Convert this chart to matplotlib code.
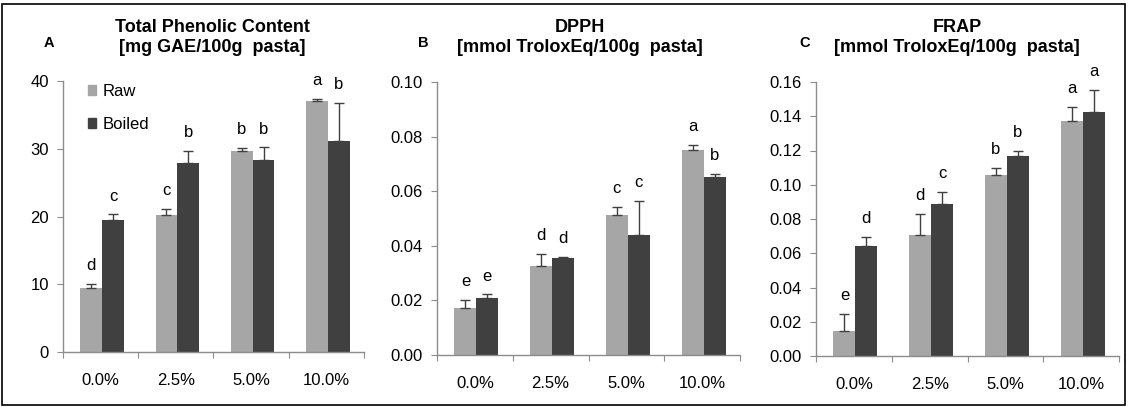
import numpy as np
import matplotlib
matplotlib.use("Agg")
from matplotlib import pyplot as plt
from matplotlib.patches import Patch, Rectangle

plt.rcParams["font.family"] = ["Liberation Sans", "DejaVu Sans"]

# Data
categories = ["0.0%", "2.5%", "5.0%", "10.0%"]

tpc_raw = [9.4, 20.2, 29.6, 37.0]
tpc_raw_err = [0.7, 0.9, 0.5, 0.3]
tpc_boiled = [19.5, 27.9, 28.4, 31.2]
tpc_boiled_err = [0.8, 1.8, 1.8, 5.6]
tpc_raw_letters = ["d", "c", "b", "a"]
tpc_boiled_letters = ["c", "b", "b", "b"]

dpph_raw = [0.0171, 0.0326, 0.0512, 0.0750]
dpph_raw_err = [0.0030, 0.0044, 0.0031, 0.0018]
dpph_boiled = [0.0207, 0.0356, 0.0439, 0.0651]
dpph_boiled_err = [0.0015, 0.0004, 0.0124, 0.0012]
dpph_raw_letters = ["e", "d", "c", "a"]
dpph_boiled_letters = ["e", "d", "c", "b"]

frap_raw = [0.0145, 0.0705, 0.1055, 0.1372]
frap_raw_err = [0.0100, 0.0125, 0.0045, 0.0080]
frap_boiled = [0.0640, 0.0890, 0.1165, 0.1425]
frap_boiled_err = [0.0055, 0.0070, 0.0030, 0.0130]
frap_raw_letters = ["e", "d", "b", "a"]
frap_boiled_letters = ["d", "c", "b", "a"]

RAW = "#A6A6A6"
BOILED = "#404040"
AXIS = "#8C8C8C"
FS = 12

W, H = 1128, 407
fig = plt.figure(figsize=(W / 100, H / 100), dpi=100)


def px_axes(left, right, top, bottom):
    return fig.add_axes([left / W, 1 - bottom / H, (right - left) / W, (bottom - top) / H])


panels = [
    dict(box=(63, 364, 81, 352), ymax=40, yticks=np.arange(0, 41, 10), fmt="{:.0f}",
         raw=tpc_raw, raw_err=tpc_raw_err, boiled=tpc_boiled, boiled_err=tpc_boiled_err,
         lr=tpc_raw_letters, lb=tpc_boiled_letters,
         title1="Total Phenolic Content", title2="[mg GAE/100g  pasta]", tx=212, tag="A", tagx=49),
    dict(box=(437, 740, 82, 355), ymax=0.10, yticks=np.arange(0, 0.101, 0.02), fmt="{:.2f}",
         raw=dpph_raw, raw_err=dpph_raw_err, boiled=dpph_boiled, boiled_err=dpph_boiled_err,
         lr=dpph_raw_letters, lb=dpph_boiled_letters,
         title1="DPPH", title2="[mmol TroloxEq/100g  pasta]", tx=580, tag="B", tagx=423),
    dict(box=(816, 1119, 82, 356), ymax=0.16, yticks=np.arange(0, 0.161, 0.02), fmt="{:.2f}",
         raw=frap_raw, raw_err=frap_raw_err, boiled=frap_boiled, boiled_err=frap_boiled_err,
         lr=frap_raw_letters, lb=frap_boiled_letters,
         title1="FRAP", title2="[mmol TroloxEq/100g  pasta]", tx=957, tag="C", tagx=805),
]

x = np.arange(len(categories)) + 0.52
bw = 0.29

for i, p in enumerate(panels):
    ax = px_axes(*p["box"])
    ax.bar(x - bw / 2, p["raw"], bw, color=RAW, label="Raw", zorder=2)
    ax.bar(x + bw / 2, p["boiled"], bw, color=BOILED, label="Boiled", zorder=2)
    ax.errorbar(x - bw / 2, p["raw"], yerr=[np.zeros(4), p["raw_err"]], fmt="none",
                ecolor=BOILED, elinewidth=1, capsize=3.5, capthick=1, zorder=3)
    ax.errorbar(x + bw / 2, p["boiled"], yerr=[np.zeros(4), p["boiled_err"]], fmt="none",
                ecolor=BOILED, elinewidth=1, capsize=3.5, capthick=1, zorder=3)

    for xs, vals, errs, letters in [(x - bw / 2, p["raw"], p["raw_err"], p["lr"]),
                                    (x + bw / 2, p["boiled"], p["boiled_err"], p["lb"])]:
        for xi, v, e, l in zip(xs, vals, errs, letters):
            ax.annotate(l, (xi, v + e), xytext=(0, 10), textcoords="offset points",
                        ha="center", va="baseline", fontsize=FS, color="black")

    ax.set_xlim(0, 4)
    ax.set_ylim(0, p["ymax"])
    ax.set_yticks(p["yticks"])
    ax.set_yticklabels([p["fmt"].format(v) for v in p["yticks"]])
    ax.set_xticks(np.arange(5))
    ax.set_xticklabels([])
    ax.set_xticks(np.arange(4) + 0.5, minor=True)
    ax.set_xticklabels(categories, minor=True)
    ax.tick_params(axis="x", which="major", direction="out", length=4, color=AXIS)
    ax.tick_params(axis="x", which="minor", length=0, pad=15, labelsize=FS)
    ax.tick_params(axis="y", direction="out", length=4, color=AXIS, pad=6, labelsize=FS)
    for s in ["top", "right"]:
        ax.spines[s].set_visible(False)
    for s in ["left", "bottom"]:
        ax.spines[s].set_color(AXIS)
        ax.spines[s].set_linewidth(1.0)

    fig.text(p["tx"] / W, 1 - 27 / H, p["title1"], ha="center", va="center",
             fontsize=13, fontweight="bold")
    fig.text(p["tx"] / W, 1 - 48 / H, p["title2"], ha="center", va="center",
             fontsize=13, fontweight="bold")
    fig.text(p["tagx"] / W, 1 - 43 / H, p["tag"], ha="center", va="center",
             fontsize=10.5, fontweight="bold")

    if i == 0:
        handles = [Patch(color=RAW), Patch(color=BOILED)]
        ax.legend(handles, ["Raw", "Boiled"], loc="upper left", bbox_to_anchor=(0.083, 0.99),
                  frameon=False, fontsize=FS, handlelength=0.5, handleheight=0.5,
                  handletextpad=0.35, labelspacing=1.1, borderpad=0, borderaxespad=0)

fig.add_artist(Rectangle((2 / W, 2 / H), 1 - 5 / W, 1 - 6 / H, transform=fig.transFigure,
                         fill=False, edgecolor="black", linewidth=1.2))

fig.savefig("out.png", dpi=100)
